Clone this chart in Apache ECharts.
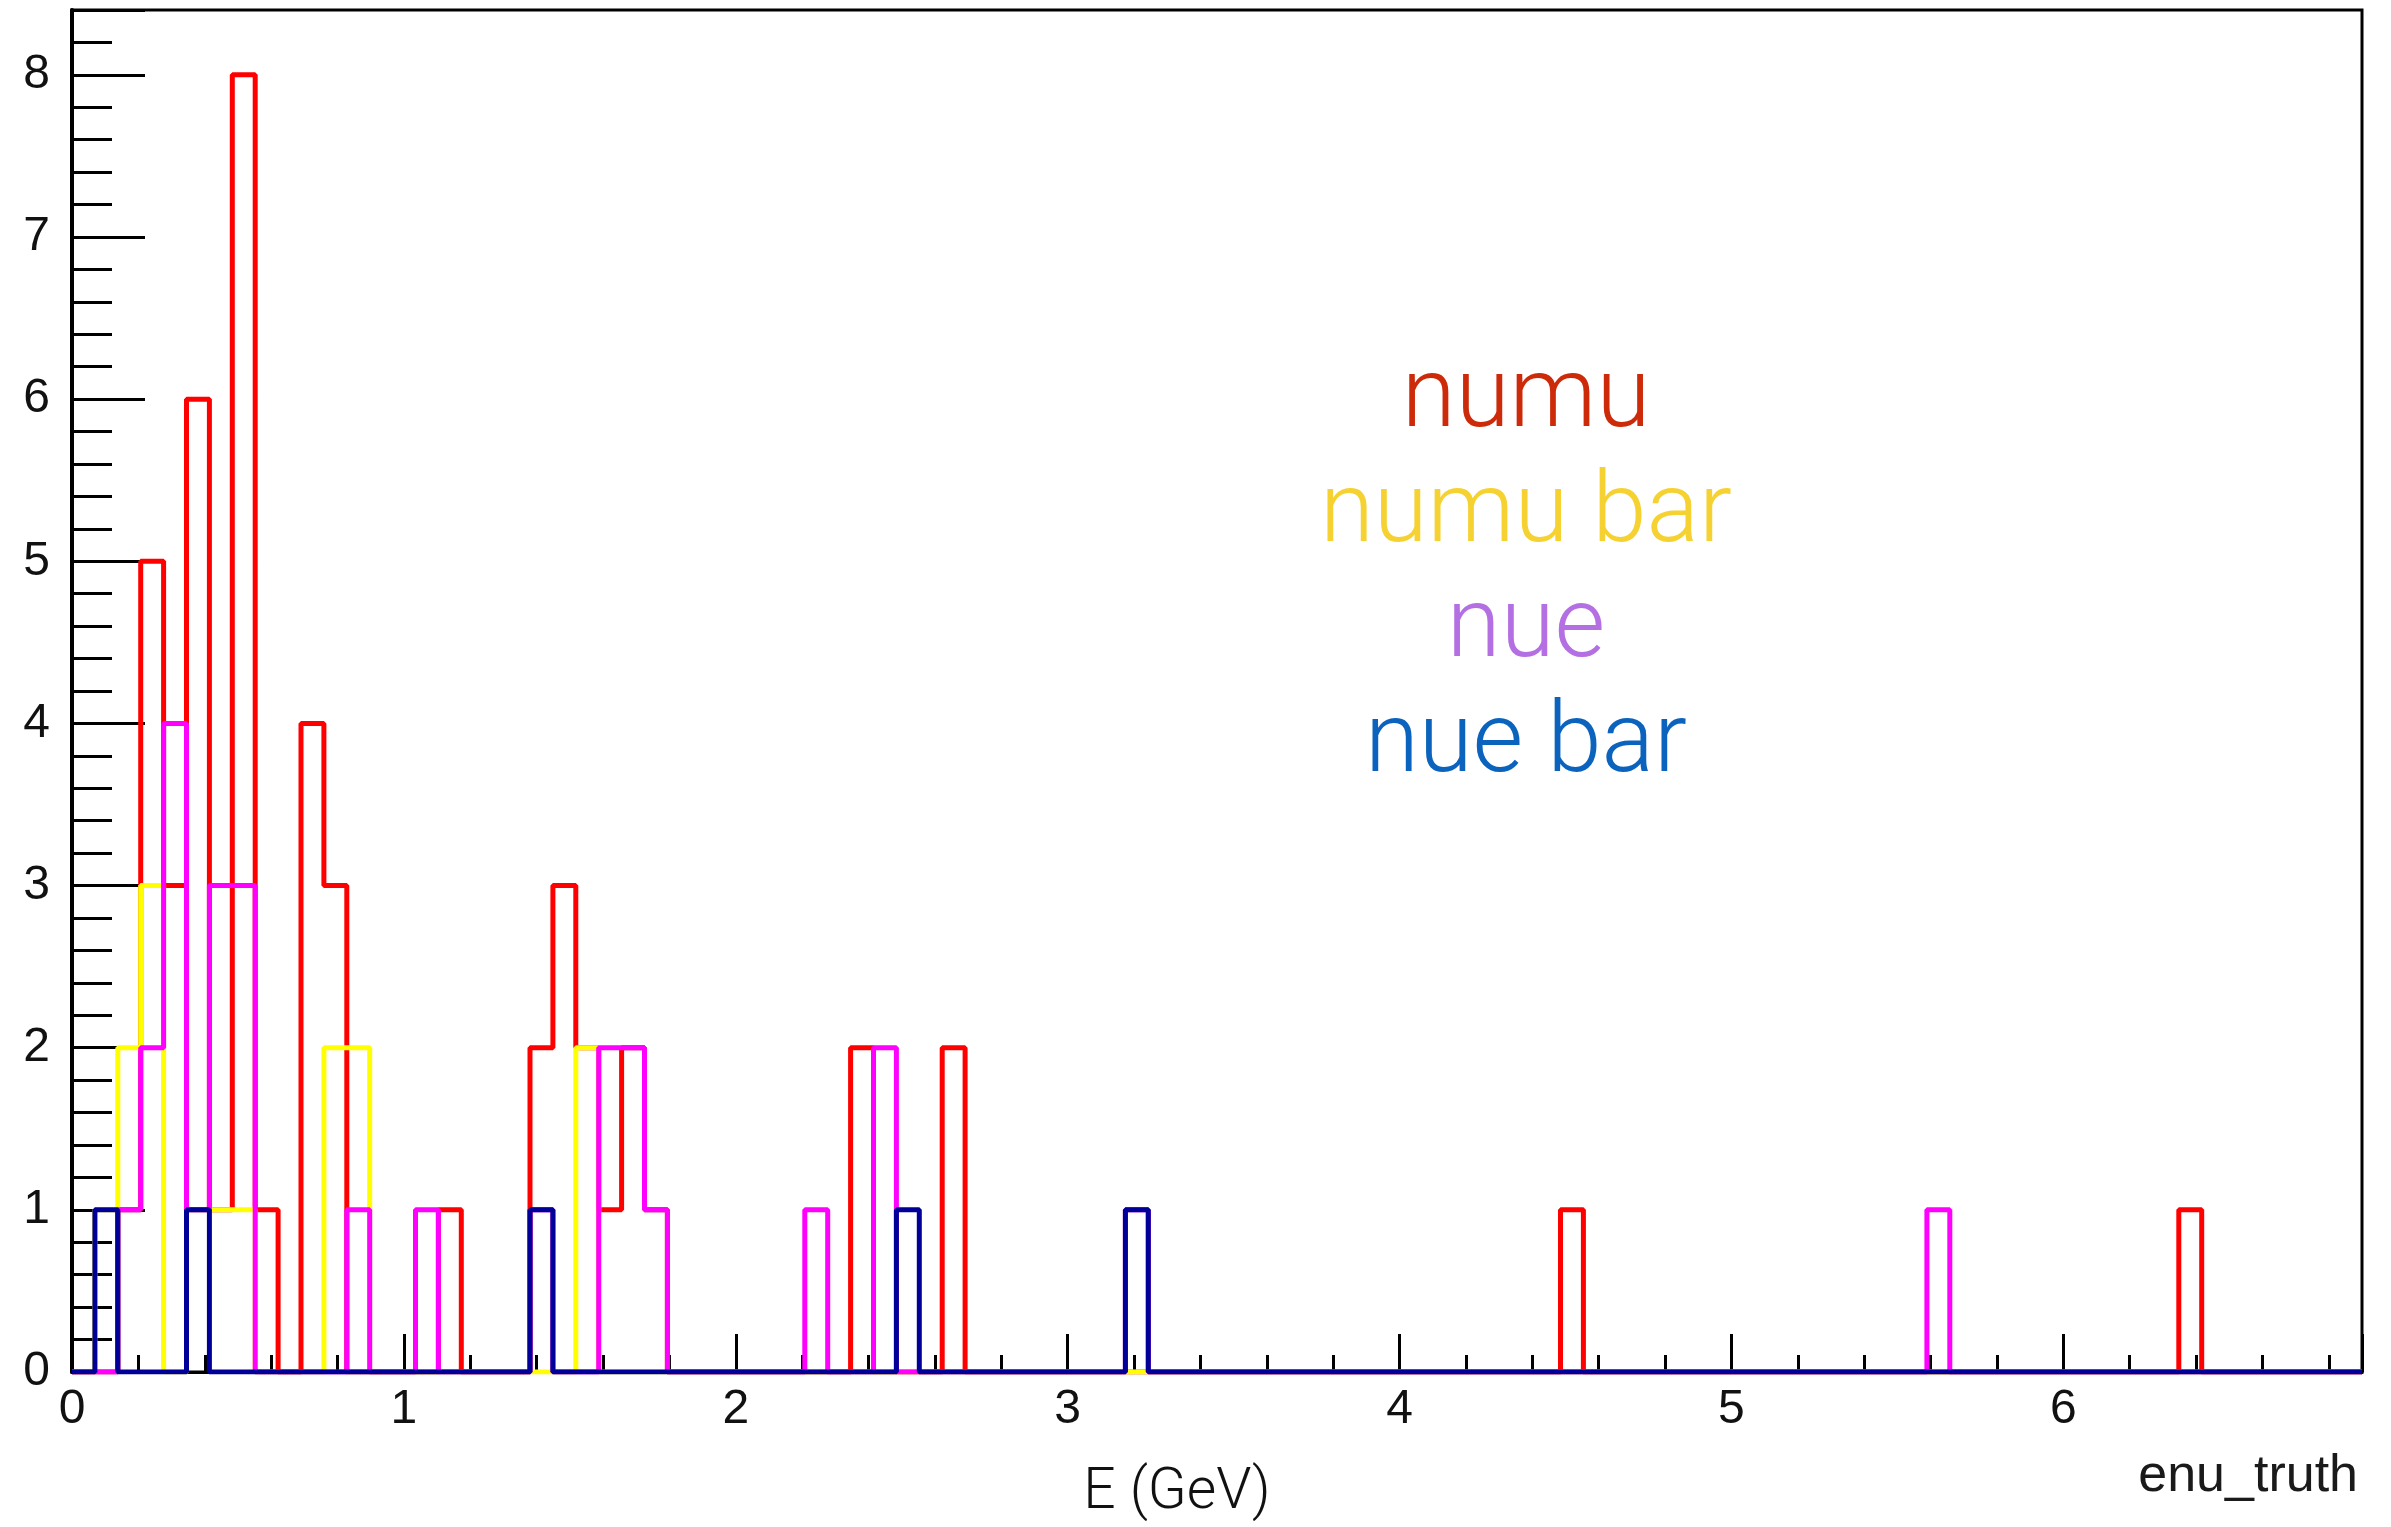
<!DOCTYPE html>
<html>
<head>
<meta charset="utf-8">
<script src="https://cdn.jsdelivr.net/npm/echarts@6/dist/echarts.min.js"></script>
<style>
html,body{margin:0;padding:0;background:#ffffff;}
#chart{width:2391px;height:1527px;}
</style>
</head>
<body>
<div id="chart"></div>
<script>
// Histogram definition (ROOT TH1: 100 bins from 0 to 6.9 GeV)
const nBins = 100;
const eMin = 0;
const eMax = 6.9;
const yMin = 0;
const yMax = 8.4;

// Tick labels
const xTickLabels = ['0', '1', '2', '3', '4', '5', '6'];
const yTickLabels = ['0', '1', '2', '3', '4', '5', '6', '7', '8'];

// Series: non-empty bin indices and their counts
const numuBins = [2, 3, 4, 5, 6, 7, 8, 10, 11, 16, 20, 21, 22, 23, 24, 25, 34, 38, 65, 92];
const numuCounts = [1, 5, 3, 6, 1, 8, 1, 4, 3, 1, 2, 3, 2, 1, 2, 1, 2, 2, 1, 1];

const numubarBins = [1, 2, 3, 5, 6, 7, 11, 12, 22];
const numubarCounts = [1, 2, 3, 1, 1, 1, 2, 2, 2];

const nueBins = [2, 3, 4, 5, 6, 7, 12, 15, 20, 23, 24, 25, 32, 35, 46, 81];
const nueCounts = [1, 2, 4, 1, 3, 3, 1, 1, 1, 2, 2, 1, 1, 2, 1, 1];

const nuebarBins = [1, 5, 20, 36, 46];
const nuebarCounts = [1, 1, 1, 1, 1];

const seriesNames = ['numu', 'numu bar', 'nue', 'nue bar'];
const xAxisTitle = 'E (GeV)';
const histTitle = 'enu_truth';

// Build step outline of a histogram from its bins
function histOutline(bins, counts) {
  const w = (eMax - eMin) / nBins;
  const v = new Array(nBins).fill(0);
  bins.forEach(function (b, i) { v[b] = counts[i]; });
  const pts = [];
  for (let i = 0; i < nBins; i++) pts.push([eMin + i * w, v[i]]);
  pts.push([eMax, v[nBins - 1]]);
  return pts;
}

const lineColors = ['#ff0000', '#ffff00', '#ff00ff', '#000099'];
const textColors = ['#cc2a08', '#f5d231', '#b46fe2', '#0b63bd'];
const dataSets = [
  histOutline(numuBins, numuCounts),
  histOutline(numubarBins, numubarCounts),
  histOutline(nueBins, nueCounts),
  histOutline(nuebarBins, nuebarCounts)
];

const chart = echarts.init(document.getElementById('chart'), null, {renderer: 'canvas'});

const labelFont = {
  fontFamily: 'Liberation Sans, Arial, Helvetica, sans-serif',
  fontSize: 48,
  color: '#111111'
};

const legendY = [401, 516, 631, 746];

const option = {
  backgroundColor: '#ffffff',
  animation: false,
  grid: {
    left: 72, right: 29, top: 10, bottom: 145,
    show: true, borderColor: '#000000', borderWidth: 3,
    backgroundColor: 'transparent'
  },
  xAxis: {
    type: 'value',
    min: eMin, max: eMax, interval: 1,
    name: xAxisTitle,
    nameLocation: 'middle',
    nameGap: 93,
    nameTextStyle: {
      fontFamily: 'Roboto, Helvetica Neue, Liberation Sans, sans-serif',
      fontWeight: 300,
      fontSize: 57,
      color: '#111111',
      padding: [0, 80, 0, 0]
    },
    axisLine: {show: true, onZero: false, lineStyle: {color: '#000000', width: 3}},
    axisTick: {show: true, inside: true, length: 38, lineStyle: {color: '#000000', width: 3}},
    minorTick: {show: true, splitNumber: 5, length: 17, lineStyle: {color: '#000000', width: 3}},
    splitLine: {show: false},
    axisLabel: Object.assign({
      margin: 14,
      showMaxLabel: false,
      formatter: function (v) {
        const i = Math.round(v);
        return Math.abs(v - i) < 1e-6 && i < xTickLabels.length ? xTickLabels[i] : '';
      }
    }, labelFont)
  },
  yAxis: {
    type: 'value',
    min: yMin, max: yMax, interval: 1,
    axisLine: {show: true, onZero: false, lineStyle: {color: '#000000', width: 4}},
    axisTick: {show: true, inside: true, length: 73, lineStyle: {color: '#000000', width: 3}},
    minorTick: {show: true, splitNumber: 5, length: 40, lineStyle: {color: '#000000', width: 3}},
    splitLine: {show: false},
    axisLabel: Object.assign({
      margin: 22,
      showMaxLabel: false,
      formatter: function (v) {
        const i = Math.round(v);
        return Math.abs(v - i) < 1e-6 && i < yTickLabels.length ? yTickLabels[i] : '';
      }
    }, labelFont)
  },
  series: dataSets.map(function (d, k) {
    return {
      name: seriesNames[k],
      type: 'line',
      step: 'end',
      data: d,
      showSymbol: false,
      symbol: 'none',
      clip: true,
      z: 2 + k,
      lineStyle: {color: lineColors[k], width: 5},
      itemStyle: {color: lineColors[k]},
      emphasis: {disabled: true}
    };
  }),
  graphic: seriesNames.map(function (n, k) {
    return {
      type: 'text',
      x: 1526,
      y: legendY[k],
      z: 100,
      style: {
        text: n,
        fill: textColors[k],
        font: '300 98px Roboto, "Helvetica Neue", "Liberation Sans", sans-serif',
        textAlign: 'center',
        textVerticalAlign: 'middle'
      }
    };
  }).concat([{
    type: 'text',
    x: 2358,
    y: 1477,
    z: 100,
    style: {
      text: histTitle,
      fill: '#1a1a1a',
      font: '52px "Liberation Sans", Arial, sans-serif',
      textAlign: 'right',
      textVerticalAlign: 'middle'
    }
  }])
};

chart.setOption(option);
</script>
</body>
</html>
